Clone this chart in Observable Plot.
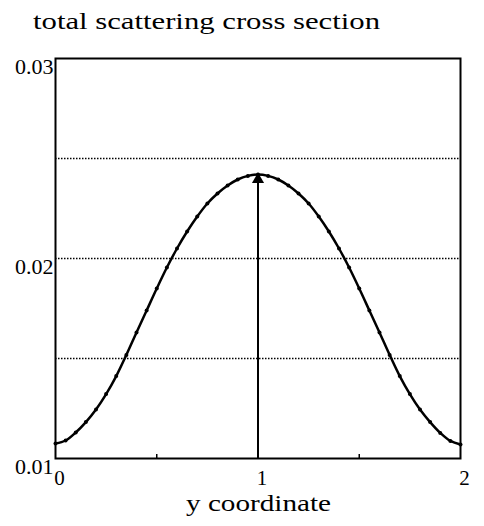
<!DOCTYPE html>
<html>
<head>
<meta charset="utf-8">
<script src="https://cdn.jsdelivr.net/npm/d3@7"></script>
<script src="https://cdn.jsdelivr.net/npm/@observablehq/plot@0.6"></script>
<style>
  html, body { margin: 0; padding: 0; background: #fff; }
  #wrap { position: relative; width: 484px; height: 526px; }
  #title { position: absolute; left: 33px; top: 8px; font-family: "Liberation Serif", "Times New Roman", "DejaVu Serif", serif; font-size: 24px; color: #000; white-space: nowrap; transform-origin: left top; }
  #xlabel { position: absolute; left: 186px; top: 490px; font-family: "Liberation Serif", "Times New Roman", "DejaVu Serif", serif; font-size: 24px; color: #000; white-space: nowrap; transform-origin: left top; }
</style>
</head>
<body>
<div id="wrap">
  <div id="title">total scattering cross section</div>
  <div id="chart"></div>
  <div id="xlabel">y coordinate</div>
</div>
<script>
// y coordinate positions of the sampled points
const xValues = [0.00, 0.05, 0.10, 0.15, 0.20, 0.25, 0.30, 0.35, 0.40, 0.45,
                 0.50, 0.55, 0.60, 0.65, 0.70, 0.75, 0.80, 0.85, 0.90, 0.95,
                 1.00, 1.05, 1.10, 1.15, 1.20, 1.25, 1.30, 1.35, 1.40, 1.45,
                 1.50, 1.55, 1.60, 1.65, 1.70, 1.75, 1.80, 1.85, 1.90, 1.95, 2.00];
// total scattering cross section values
const crossSection = [0.01075, 0.01090, 0.01130, 0.01182, 0.01245, 0.01322, 0.01412, 0.01518, 0.01630, 0.01740,
                      0.01850, 0.01955, 0.02050, 0.02135, 0.02210, 0.02275, 0.02325, 0.02365, 0.02395, 0.02413,
                      0.02420, 0.02413, 0.02395, 0.02365, 0.02325, 0.02275, 0.02210, 0.02135, 0.02050, 0.01955,
                      0.01850, 0.01740, 0.01630, 0.01518, 0.01412, 0.01322, 0.01245, 0.01182, 0.01128, 0.01088, 0.01070];
const yTicks = [0.01, 0.02, 0.03];
const xTicks = [0, 1, 2];
const xMinorTicks = [0.5, 1, 1.5];
const gridLines = [0.015, 0.02, 0.025];
const arrowX = 1;
const arrowBase = 0.01;
const arrowTip = 0.0242;

const data = xValues.map((x, i) => ({x, y: crossSection[i]}));
const serif = "'Liberation Serif', 'Times New Roman', 'DejaVu Serif', serif";

const chart = Plot.plot({
  width: 484,
  height: 526,
  marginLeft: 55,
  marginRight: 24,
  marginTop: 58,
  marginBottom: 68,
  style: { fontFamily: serif, fontSize: "22px", color: "#000", background: "#fff" },
  x: { domain: [0, 2] },
  y: { domain: [0.01, 0.03] },
  marks: [
    Plot.ruleY(gridLines, { stroke: "#000", strokeWidth: 1.3, strokeDasharray: "1.5,1.5" }),
    Plot.axisY({ ticks: yTicks, tickSize: 0, tickPadding: 2, tickFormat: d3.format(".2f"), fontSize: 22, fontFamily: serif, dy: 8, label: null }),
    Plot.axisX({ ticks: xTicks, tickSize: 0, tickPadding: 12, tickFormat: d => String(d), fontSize: 21, fontFamily: serif, dx: 4, label: null }),
    Plot.axisX({ ticks: xMinorTicks, tickSize: 4, dy: -4, text: null, label: null, strokeWidth: 1.5 }),
    Plot.ruleX([{x: arrowX, y1: arrowBase, y2: arrowTip}], { x: "x", y1: "y1", y2: "y2", stroke: "#000", strokeWidth: 2 }),
    Plot.dot([{x: arrowX, y: arrowTip}], { x: "x", y: "y", symbol: "triangle", r: 4.5, fill: "#000", dy: 5 }),
    Plot.line(data, { x: "x", y: "y", stroke: "#000", strokeWidth: 2.5, curve: "catmull-rom" }),
    Plot.dot(data, { x: "x", y: "y", r: 2, fill: "#000" }),
    Plot.frame({ stroke: "#000", strokeWidth: 2 })
  ]
});
document.getElementById("chart").appendChild(chart);

// stretch texts horizontally to match the reference widths
function stretch(id, target) {
  const el = document.getElementById(id);
  const w = el.getBoundingClientRect().width;
  el.style.transform = `scaleX(${target / w})`;
}
stretch("title", 347);
stretch("xlabel", 145);
</script>
</body>
</html>
